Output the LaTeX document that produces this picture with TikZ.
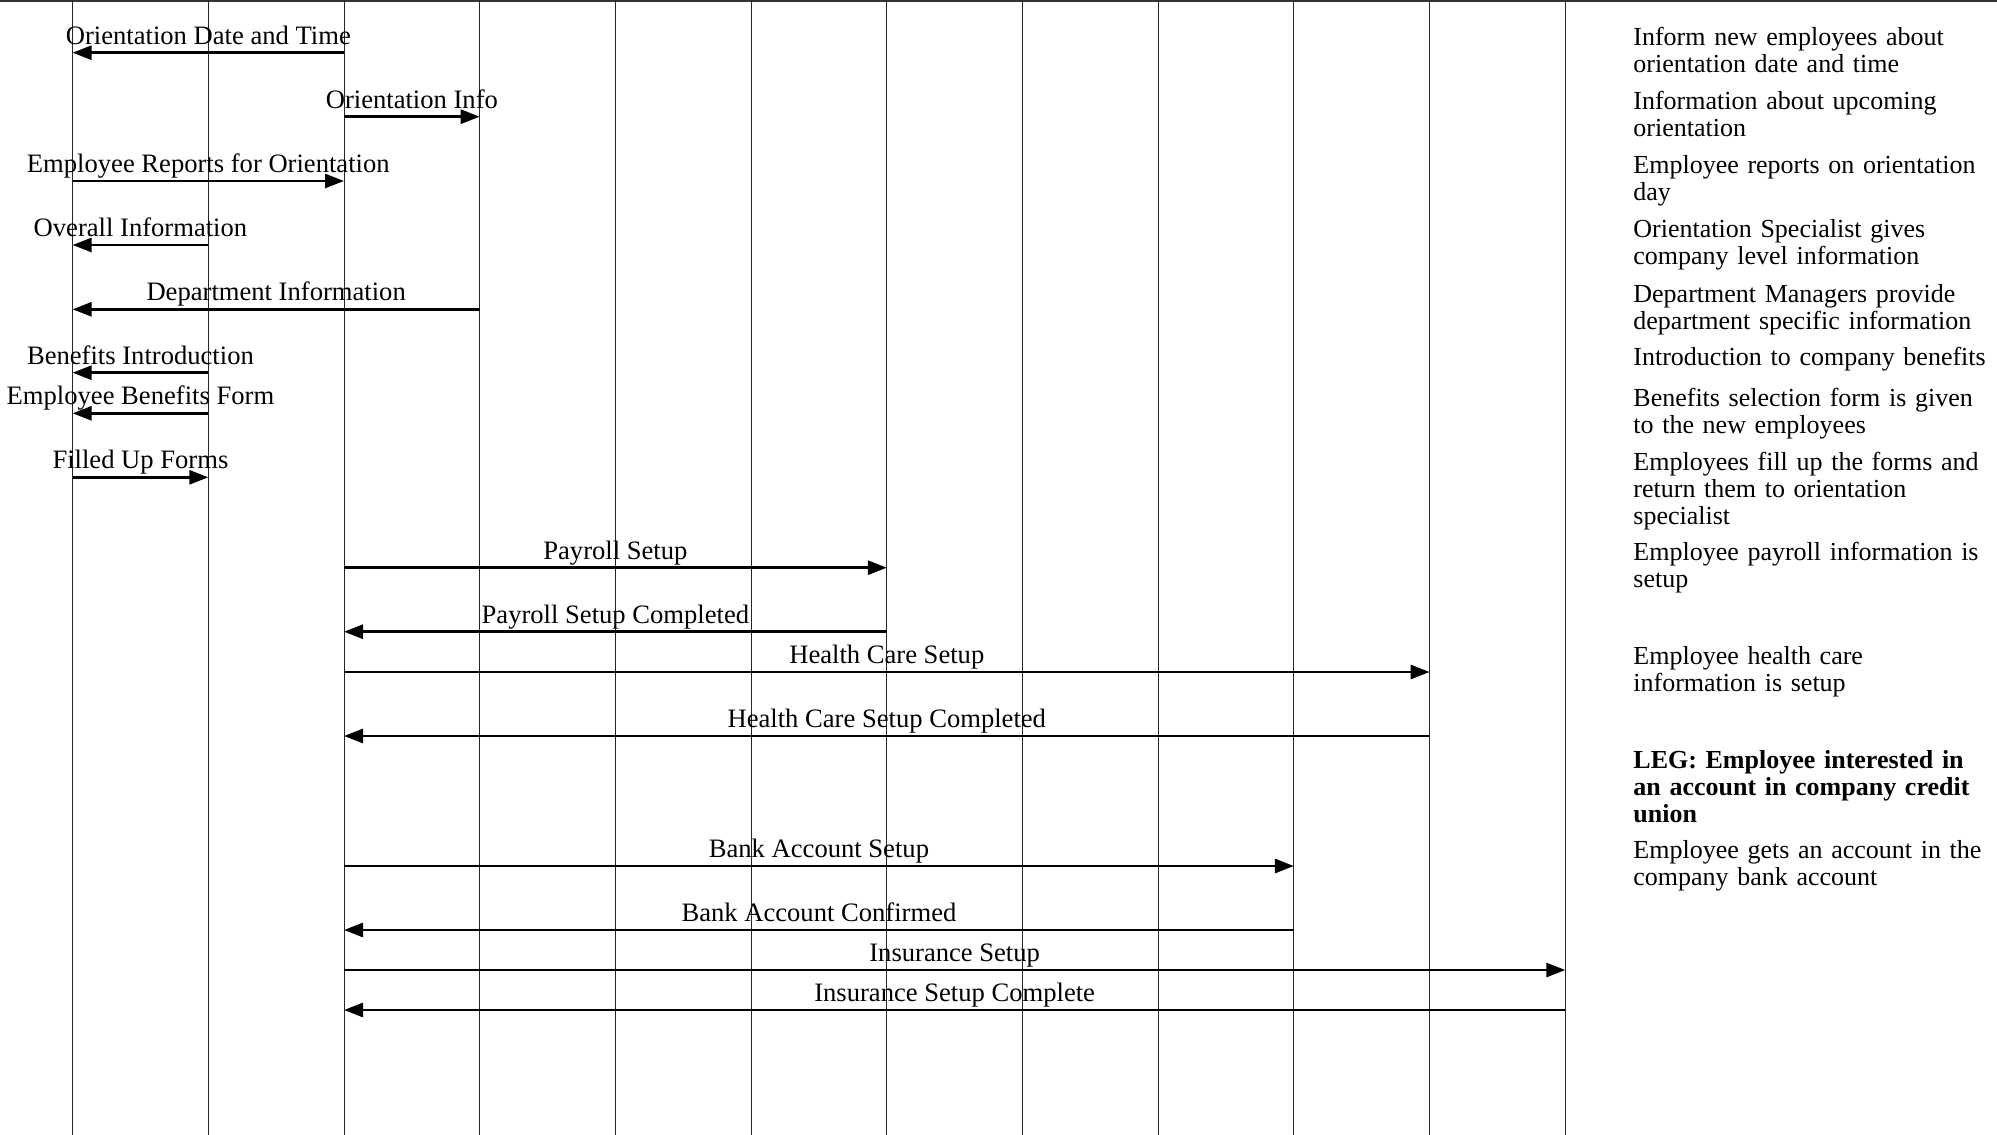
\documentclass[tikz,border=0pt]{standalone}
\usepackage{fontspec}
\setmainfont{Liberation Serif}
\usetikzlibrary{arrows.meta}
\tikzset{
    lifeline/.style = {-,line width=0.5pt,black!85},
    topline/.style = {-,line width=1.2pt,black!80},
    msg/.style = {-{Triangle[length=9.5pt,width=7pt]},line width=1.4pt,black},
    msglabel/.style = {midway,anchor=base,yshift=4.2pt,inner sep=0pt,font=\fontsize{13.3}{13.5}\selectfont,text=black},
    mynote/.style = {anchor=base west,inner sep=0pt,text width=185pt,align=left,font=\fontsize{13}{13.5}\selectfont,text=black},
    mynoteb/.style = {mynote,font=\fontsize{13}{13.5}\selectfont\bfseries}
}
\begin{document}
\begin{tikzpicture}[x=0.5pt,y=-0.5pt]
\useasboundingbox (0,0) rectangle (1997,1135);
%
\coordinate (tl) at (0,1);
\coordinate (tr) at (1997,1);
\draw[topline] (tl) -- (tr);
%
\coordinate (l0) at (72.6,0);    \coordinate (l0b) at (72.6,1135);
\coordinate (l1) at (208.3,0);   \coordinate (l1b) at (208.3,1135);
\coordinate (l2) at (344.0,0);   \coordinate (l2b) at (344.0,1135);
\coordinate (l3) at (479.7,0);   \coordinate (l3b) at (479.7,1135);
\coordinate (l4) at (615.4,0);   \coordinate (l4b) at (615.4,1135);
\coordinate (l5) at (751.1,0);   \coordinate (l5b) at (751.1,1135);
\coordinate (l6) at (886.8,0);   \coordinate (l6b) at (886.8,1135);
\coordinate (l7) at (1022.5,0);  \coordinate (l7b) at (1022.5,1135);
\coordinate (l8) at (1158.2,0);  \coordinate (l8b) at (1158.2,1135);
\coordinate (l9) at (1293.9,0);  \coordinate (l9b) at (1293.9,1135);
\coordinate (l10) at (1429.6,0); \coordinate (l10b) at (1429.6,1135);
\coordinate (l11) at (1565.3,0); \coordinate (l11b) at (1565.3,1135);
%
\draw[lifeline] (l0) -- (l0b);
\draw[lifeline] (l1) -- (l1b);
\draw[lifeline] (l2) -- (l2b);
\draw[lifeline] (l3) -- (l3b);
\draw[lifeline] (l4) -- (l4b);
\draw[lifeline] (l5) -- (l5b);
\draw[lifeline] (l6) -- (l6b);
\draw[lifeline] (l7) -- (l7b);
\draw[lifeline] (l8) -- (l8b);
\draw[lifeline] (l9) -- (l9b);
\draw[lifeline] (l10) -- (l10b);
\draw[lifeline] (l11) -- (l11b);
%
\coordinate (r1) at (0,52.7);
\coordinate (r2) at (0,116.7);
\coordinate (r3) at (0,181);
\coordinate (r4) at (0,245);
\coordinate (r5) at (0,309.3);
\coordinate (r6) at (0,372.7);
\coordinate (r7) at (0,413.3);
\coordinate (r8) at (0,477.3);
\coordinate (r9) at (0,567.7);
\coordinate (r10) at (0,631.7);
\coordinate (r11) at (0,672);
\coordinate (r12) at (0,736);
\coordinate (r13) at (0,866);
\coordinate (r14) at (0,930);
\coordinate (r15) at (0,970);
\coordinate (r16) at (0,1010);
%
\draw[msg] (l2 |- r1) -- node[msglabel] {Orientation Date and Time} (l0 |- r1);
\draw[msg] (l2 |- r2) -- node[msglabel] {Orientation Info} (l3 |- r2);
\draw[msg] (l0 |- r3) -- node[msglabel] {Employee Reports for Orientation} (l2 |- r3);
\draw[msg] (l1 |- r4) -- node[msglabel] {Overall Information} (l0 |- r4);
\draw[msg] (l3 |- r5) -- node[msglabel] {Department Information} (l0 |- r5);
\draw[msg] (l1 |- r6) -- node[msglabel] {Benefits Introduction} (l0 |- r6);
\draw[msg] (l1 |- r7) -- node[msglabel] {Employee Benefits Form} (l0 |- r7);
\draw[msg] (l0 |- r8) -- node[msglabel] {Filled Up Forms} (l1 |- r8);
\draw[msg] (l2 |- r9) -- node[msglabel] {Payroll Setup} (l6 |- r9);
\draw[msg] (l6 |- r10) -- node[msglabel] {Payroll Setup Completed} (l2 |- r10);
\draw[msg] (l2 |- r11) -- node[msglabel] {Health Care Setup} (l10 |- r11);
\draw[msg] (l10 |- r12) -- node[msglabel] {Health Care Setup Completed} (l2 |- r12);
\draw[msg] (l2 |- r13) -- node[msglabel] {Bank Account Setup} (l9 |- r13);
\draw[msg] (l9 |- r14) -- node[msglabel] {Bank Account Confirmed} (l2 |- r14);
\draw[msg] (l2 |- r15) -- node[msglabel] {Insurance Setup} (l11 |- r15);
\draw[msg] (l11 |- r16) -- node[msglabel] {Insurance Setup Complete} (l2 |- r16);
%
\node[mynote] (n1) at (1633,45.5) {Inform new employees about\\orientation date and time};
\node[mynote] (n2) at (1633,109.5) {Information about upcoming\\orientation};
\node[mynote] (n3) at (1633,173.8) {Employee reports on orientation\\day};
\node[mynote] (n4) at (1633,237.8) {Orientation Specialist gives\\company level information};
\node[mynote] (n5) at (1633,302.1) {Department Managers provide\\department specific information};
\node[mynote] (n6) at (1633,365.5) {Introduction to company benefits};
\node[mynote] (n7) at (1633,406.1) {Benefits selection form is given\\to the new employees};
\node[mynote] (n8) at (1633,470.1) {Employees fill up the forms and\\return them to orientation\\specialist};
\node[mynote] (n9) at (1633,560.5) {Employee payroll information is\\setup};
\node[mynote] (n10) at (1633,664.8) {Employee health care\\information is setup};
\node[mynoteb] (n11) at (1633,768.5) {LEG: Employee interested in\\an account in company credit\\union};
\node[mynote] (n12) at (1633,858.8) {Employee gets an account in the\\company bank account};
\end{tikzpicture}
\end{document}
